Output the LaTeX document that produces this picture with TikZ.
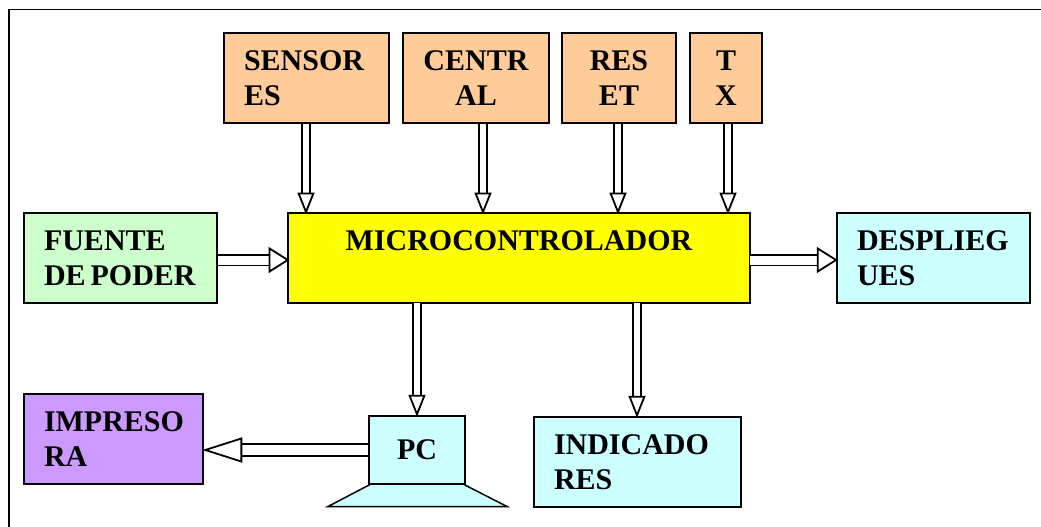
\documentclass[tikz,border=0pt]{standalone}
\usepackage{fontspec}
\setmainfont{Liberation Serif}
\usetikzlibrary{arrows.meta}

\definecolor{peach}{RGB}{255,204,153}
\definecolor{palegreen}{RGB}{204,255,204}
\definecolor{palecyan}{RGB}{204,255,255}
\definecolor{lilac}{RGB}{204,153,255}
\definecolor{puryellow}{RGB}{255,255,0}

\tikzset{
    blockbox/.style={draw, line width=1.5pt, inner xsep=20pt, inner ysep=0pt, minimum height=90pt,
        font=\fontsize{30}{35}\selectfont\bfseries},
    busarrow/.style n args={3}{draw, double, double distance=#1, line width=1.8pt, shorten >=-1.5pt,
        -{Triangle[open, fill=white, length=#2, width=#3, line width=1.8pt]}},
    vbus/.style={busarrow={5.5pt}{22pt}{17pt}},
    hbus/.style={busarrow={9pt}{21pt}{26pt}},
}

\begin{document}
\begin{tikzpicture}[x=1pt, y=-1pt]
    \useasboundingbox (0,0) rectangle (1041,527);
    \draw [line width=1.5pt] (9,527) -- (9,9.5) -- (1041,9.5);

    \node[blockbox, fill=peach, text width=125pt, align=left]   (sensores) at (306.5,78) {SENSOR\\ES};
    \node[blockbox, fill=peach, text width=106pt, align=center] (central)  at (476,78)   {CENTR\\AL};
    \node[blockbox, fill=peach, text width=74pt,  align=center] (reset)    at (619,78)   {RES\\ET};
    \node[blockbox, fill=peach, text width=32pt,  align=center] (tx)       at (726,78)   {T\\X};

    \node[blockbox, fill=palegreen, text width=153pt, align=left]   (fuente) at (120.5,258) {FUENTE\\DE\hspace{5pt}PODER};
    \node[blockbox, fill=puryellow, text width=422pt, align=center] (micro)  at (519,258)   {MICROCONTROLADOR\\\mbox{}};
    \node[blockbox, fill=palecyan, text width=153pt, align=left]    (despliegues) at (933.5,258) {DESPLIEG\\UES};

    \node[blockbox, fill=lilac, text width=139pt, align=left]    (impresora)   at (113.5,439) {IMPRESO\\RA};
    \node[blockbox, fill=palecyan, text width=167pt, align=left] (indicadores) at (637.5,462) {INDICADO\\RES};

    \node[draw, line width=1.5pt, fill=palecyan, inner sep=0pt, minimum width=96pt, minimum height=68pt,
        font=\fontsize{30}{35}\selectfont\bfseries] (pc) at (417,450) {PC};
    \draw [line width=1.5pt, fill=palecyan] (371,484) -- (463,484) -- (507,506.5) -- (328,506.5) -- cycle;

    \coordinate (msensores) at (306,213);
    \coordinate (mcentral)  at (483,213);
    \coordinate (mreset)    at (618,213);
    \coordinate (mtx)       at (728,213);
    \coordinate (mpc)       at (417,303);
    \coordinate (mindica)   at (637,303);
    \coordinate (mfuente)   at (288,260);
    \coordinate (mdespl)    at (750,260);

    \draw [vbus] (msensores |- sensores.south) -- (msensores);
    \draw [vbus] (mcentral |- central.south)   -- (mcentral);
    \draw [vbus] (mreset |- reset.south)       -- (mreset);
    \draw [vbus] (mtx |- tx.south)             -- (mtx);

    \draw [hbus] (mfuente -| fuente.east) -- (mfuente);
    \draw [hbus] (mdespl) -- (mdespl -| despliegues.west);
    \draw [vbus] (mpc)     -- (mpc |- pc.north);
    \draw [vbus] (mindica) -- (mindica |- indicadores.north);
    \draw [busarrow={10pt}{40pt}{25pt}] (pc.west) -- (impresora.east |- pc.west);
\end{tikzpicture}
\end{document}
